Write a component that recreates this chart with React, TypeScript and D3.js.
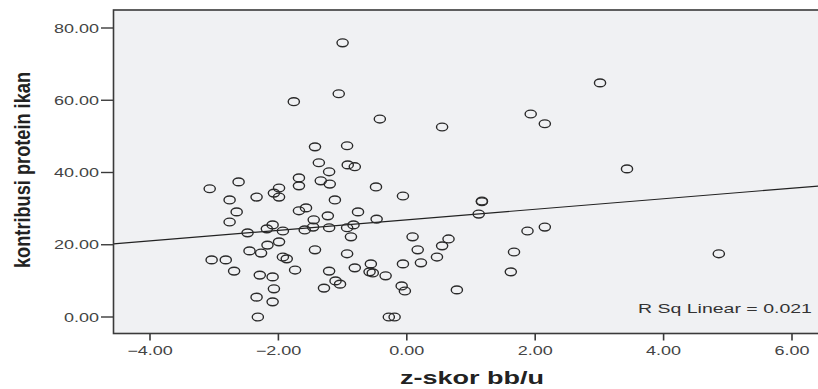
import React from "react";
import * as d3 from "d3";

const zScore: number[] = [
  -1.0, -1.06, -1.76, -0.42, -1.43, -0.93, -1.37, -0.92, -0.81, -1.21,
  -1.34, -1.68, -1.2, -2.62, -3.07, -1.99, -1.68, -0.48, -0.06, -2.76,
  -2.34, -2.07, -1.99, -1.12, 3.01, 1.93, 2.15, 0.55, 3.43, 1.17,
  1.17, 1.12, 1.88, 2.15, 0.09, 0.65, 0.55, 0.17, 1.67, 0.47,
  0.22, -0.06, 1.62, 0.78, -0.08, -0.03, 4.86, -2.65, -2.76, -1.68,
  -1.57, -1.23, -0.76, -0.47, -1.45, -2.09, -1.46, -1.59, -1.21, -0.83,
  -0.93, -2.48, -2.18, -1.93, -0.87, -2.17, -1.99, -2.45, -2.27, -1.93,
  -1.87, -1.43, -0.93, -3.04, -2.82, -2.69, -1.74, -1.21, -0.81, -0.56,
  -0.58, -0.53, -0.33, -2.29, -2.09, -2.07, -1.11, -1.04, -1.29, -2.34,
  -2.09, -2.32, -0.28, -0.19,
];

const protein: number[] = [
  75.9, 61.8, 59.6, 54.8, 47.1, 47.4, 42.7, 42.1, 41.6, 40.2,
  37.7, 38.5, 36.8, 37.4, 35.5, 35.7, 36.3, 36.0, 33.5, 32.4,
  33.2, 34.3, 33.2, 32.4, 64.8, 56.2, 53.5, 52.6, 41.0, 31.9,
  32.1, 28.5, 23.8, 24.9, 22.2, 21.6, 19.7, 18.6, 18.0, 16.6,
  15.0, 14.7, 12.5, 7.5, 8.6, 7.2, 17.5, 29.1, 26.3, 29.4,
  30.2, 28.0, 29.1, 27.1, 26.9, 25.5, 24.9, 24.1, 24.7, 25.5,
  24.7, 23.3, 24.4, 23.8, 22.2, 19.9, 20.8, 18.3, 17.7, 16.6,
  16.1, 18.6, 17.5, 15.8, 15.8, 12.7, 13.0, 12.7, 13.6, 14.7,
  12.5, 12.2, 11.4, 11.6, 11.1, 7.8, 10.0, 9.1, 8.0, 5.5,
  4.2, 0, 0, 0,
];

const xTicks: number[] = [-4, -2, 0, 2, 4, 6];
const yTicks: number[] = [0, 20, 40, 60, 80];
const fitIntercept = 26.9;
const fitSlope = 1.46;
const rSqLabel = "R Sq Linear = 0.021";
const xTitle = "z-skor bb/u";
const yTitle = "kontribusi protein ikan";

const W = 818;
const H = 389;
const SX = 1.5; // horizontal stretch of the reference image

export default function App() {
  const x = d3.scaleLinear().domain([-4, 6]).range([150, 792]);
  const y = d3.scaleLinear().domain([0, 80]).range([317, 28]);
  const left = 113.5;
  const right = 832;
  const top = 10;
  const bottom = 333.5;
  const xMin = x.invert(left);
  const xMax = x.invert(right);
  const fmt = d3.format(".2f");
  const line = d3
    .line<number>()
    .x((d) => x(d))
    .y((d) => y(fitIntercept + fitSlope * d));
  const pts = zScore.map((v, i) => ({ x: v, y: protein[i] }));
  const font = "'Liberation Sans', Arial, sans-serif";

  return (
    <svg
      width={W}
      height={H}
      style={{ position: "absolute", left: 0, top: 0, background: "#fff" }}
    >
      <defs>
        <clipPath id="plotClip">
          <rect x={left} y={top} width={right - left} height={bottom - top} />
        </clipPath>
      </defs>
      <rect x={left} y={top} width={right - left} height={bottom - top} fill="#f0f1f3" />
      <g clipPath="url(#plotClip)">
        <path d={line([xMin, xMax]) || ""} stroke="#222" strokeWidth={1.2} fill="none" />
        {pts.map((p, i) => (
          <ellipse
            key={i}
            cx={x(p.x)}
            cy={y(p.y)}
            rx={5.6}
            ry={3.9}
            fill="none"
            stroke="#2a2a2a"
            strokeWidth={1.4}
          />
        ))}
      </g>
      <rect
        x={left}
        y={top}
        width={right - left}
        height={bottom - top}
        fill="none"
        stroke="#3a3a3a"
        strokeWidth={1.6}
      />
      {yTicks.map((t) => (
        <g key={"y" + t}>
          <line x1={101} x2={left} y1={y(t)} y2={y(t)} stroke="#3a3a3a" strokeWidth={1.4} />
          <text
            transform={`translate(99,${y(t) + 4.5}) scale(${SX},1)`}
            textAnchor="end"
            fontFamily={font}
            fontSize={12}
            fill="#444"
          >
            {fmt(t)}
          </text>
        </g>
      ))}
      {xTicks.map((t) => (
        <g key={"x" + t}>
          <line x1={x(t)} x2={x(t)} y1={bottom} y2={bottom + 7} stroke="#3a3a3a" strokeWidth={1.6} />
          <text
            transform={`translate(${x(t)},355) scale(${SX},1)`}
            textAnchor="middle"
            fontFamily={font}
            fontSize={12}
            fill="#444"
          >
            {fmt(t)}
          </text>
        </g>
      ))}
      <text
        transform={`translate(638,313) scale(${SX},1)`}
        textAnchor="start"
        fontFamily={font}
        fontSize={13}
        fill="#333"
      >
        {rSqLabel}
      </text>
      <text
        transform={`translate(472,384) scale(${SX},1)`}
        textAnchor="middle"
        fontFamily={font}
        fontWeight="bold"
        fontSize={18}
        fill="#222"
      >
        {xTitle}
      </text>
      <text
        transform={`translate(30,170) scale(${SX},1) rotate(-90)`}
        textAnchor="middle"
        fontFamily={font}
        fontWeight="bold"
        fontSize={15}
        fill="#222"
        textLength={196}
        lengthAdjust="spacingAndGlyphs"
      >
        {yTitle}
      </text>
    </svg>
  );
}
